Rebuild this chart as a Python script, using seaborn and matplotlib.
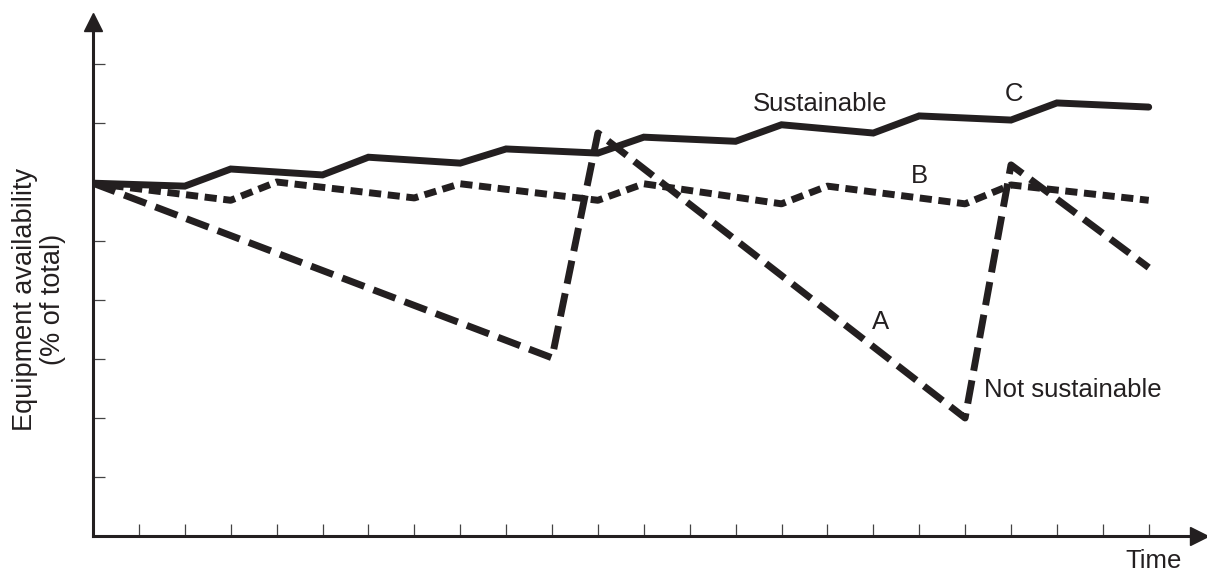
import matplotlib
matplotlib.use("Agg")
import matplotlib.pyplot as plt
import seaborn as sns
import pandas as pd
import numpy as np

# time steps (tick index) and availability (tick units)
c_time = [0, 2, 3, 5, 6, 8, 9, 11, 12, 14, 15, 17, 18, 20, 21, 23]
c_avail = [5.98, 5.93, 6.22, 6.12, 6.42, 6.32, 6.56, 6.49, 6.76, 6.69,
           6.97, 6.83, 7.12, 7.05, 7.34, 7.27]

b_time = [0, 3, 4, 7, 8, 11, 12, 15, 16, 19, 20, 23]
b_avail = [5.98, 5.69, 6.0, 5.73, 5.97, 5.69, 5.97, 5.63, 5.93, 5.63, 5.95, 5.69]

a_time = [0, 10, 11, 19, 20, 23]
a_avail = [5.98, 3.02, 6.83, 2.0, 6.29, 4.55]

x_ticks = list(range(1, 24))
y_ticks = list(range(1, 9))

ink = "#231f20"

sns.set_theme(style="white")
plt.rcParams["font.family"] = ["Liberation Sans", "DejaVu Sans"]

fig = plt.figure(figsize=(12.07, 5.74), dpi=100)
ax = fig.add_axes([93 / 1207, 38 / 574, (1199 - 93) / 1207, (536 - 22) / 574])

sns.lineplot(x=c_time, y=c_avail, ax=ax, color=ink, lw=5, solid_joinstyle="miter")
sns.lineplot(x=b_time, y=b_avail, ax=ax, color=ink, lw=5,
             linestyle=(0, (1.75, 0.95)), dash_capstyle="butt")
sns.lineplot(x=a_time, y=a_avail, ax=ax, color=ink, lw=5,
             linestyle=(0, (3.4, 1.4)), dash_capstyle="butt")

ax.set_xlim(0, (1199 - 93) / 45.9)
ax.set_ylim(0, (536 - 22) / 59)
ax.set_xticks(x_ticks)
ax.set_yticks(y_ticks)
ax.set_xticklabels([])
ax.set_yticklabels([])
ax.tick_params(axis="both", direction="in", length=8.5, width=0.9,
               color="#444444", bottom=True, left=True)

for side in ["top", "right"]:
    ax.spines[side].set_visible(False)
for side in ["left", "bottom"]:
    ax.spines[side].set_color(ink)
    ax.spines[side].set_linewidth(2.2)

# arrow heads on the axes
ax.plot(1, 0, ">", color=ink, ms=13, transform=ax.transAxes, clip_on=False)
ax.plot(0, 1, "^", color=ink, ms=13, transform=ax.transAxes, clip_on=False)

txt = dict(color=ink, fontsize=18.5, ha="center", va="center")
ax.text(15.84, 7.32, "Sustainable", **txt)
ax.text(20.07, 7.49, "C", **txt)
ax.text(18.0, 6.10, "B", **txt)
ax.text(17.15, 3.63, "A", **txt)
ax.text(19.41, 2.47, "Not sustainable", color=ink, fontsize=18.5, ha="left", va="center")
ax.text(23.1, -0.42, "Time", clip_on=False, **txt)

fig.text(39 / 1207, 1 - 299 / 574, "Equipment availability\n(% of total)",
         rotation=90, ha="center", va="center", multialignment="center",
         color=ink, fontsize=19.5, linespacing=1.1)

fig.savefig("out.png", dpi=100)
